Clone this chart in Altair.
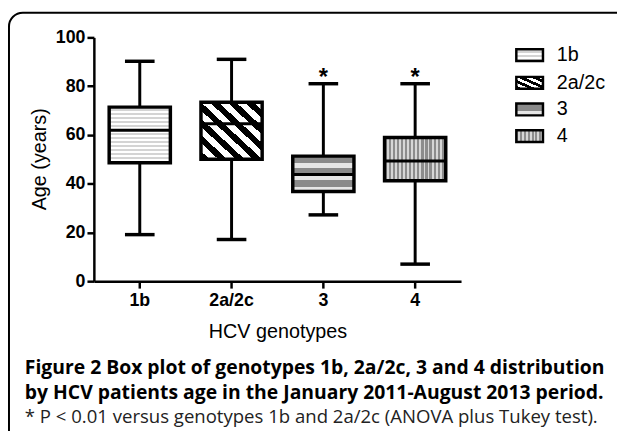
import altair as alt
import pandas as pd

# ---- data ----
genotypes = ["1b", "2a/2c", "3", "4"]
age_min = [19.1, 17.1, 27.2, 7.0]
age_q1 = [48.6, 50.0, 36.8, 41.2]
age_median = [61.9, 64.6, 43.8, 49.3]
age_q3 = [71.4, 73.4, 51.3, 58.9]
age_max = [90.2, 91.0, 81.0, 81.0]
star_genotypes = ["3", "4"]
star_age = [87.0, 87.0]
y_ticks = [0, 20, 40, 60, 80, 100]

caption_1 = "Figure 2 Box plot of genotypes 1b, 2a/2c, 3 and 4 distribution"
caption_2 = "by HCV patients age in the January 2011-August 2013 period."
caption_3 = "* P < 0.01 versus genotypes 1b and 2a/2c (ANOVA plus Tukey test)."

df = pd.DataFrame({"genotype": genotypes, "lo": age_min, "q1": age_q1,
                   "med": age_median, "q3": age_q3, "hi": age_max})
stars = pd.DataFrame({"genotype": star_genotypes, "age": star_age})


def stripes(n, c1, c2, frac, x1, y1, x2, y2):
    stops = []
    for k in range(n):
        a, b, c = k / n, (k + frac) / n, (k + 1) / n
        stops += [{"offset": a, "color": c1}, {"offset": b, "color": c1},
                  {"offset": b, "color": c2}, {"offset": c, "color": c2}]
    return {"gradient": "linear", "x1": x1, "y1": y1, "x2": x2, "y2": y2, "stops": stops}


box_fills = [
    stripes(14, "#ffffff", "#d4d4d4", 0.55, 0, 0, 0, 1),
    stripes(7, "#000000", "#ffffff", 0.5, 0, 1, 1, 0),
    stripes(3, "#8a8a8a", "#e6e6e6", 0.62, 0, 0, 0, 1),
    stripes(15, "#8c8c8c", "#d6d6d6", 0.55, 0, 0, 1, 0),
]
legend_fills = [
    stripes(3, "#ffffff", "#d4d4d4", 0.55, 0, 0, 0, 1),
    stripes(4, "#000000", "#ffffff", 0.5, 0, 1, 1, 0),
    stripes(1, "#8a8a8a", "#e6e6e6", 0.62, 0, 0, 0, 1),
    stripes(7, "#8c8c8c", "#d6d6d6", 0.55, 0, 0, 1, 0),
]

TICK_FONT = "Liberation Sans"
xscale = alt.Scale(domain=genotypes, paddingInner=0, paddingOuter=0)
yscale = alt.Scale(domain=[0, 100], nice=False, zero=True)

xaxis = alt.Axis(labelFont=TICK_FONT, labelFontSize=18, labelFontWeight="bold",
                 labelColor="black", labelAngle=0, labelPadding=4,
                 domainColor="black", domainWidth=2.5, tickColor="black",
                 tickWidth=2.5, tickSize=7, titleFont=TICK_FONT, titleFontSize=20,
                 titleFontWeight="normal", titleColor="black",
                 titleX=186, titleY=51, titleBaseline="middle", titleAlign="center",
                 grid=False)
yaxis = alt.Axis(values=y_ticks, labelFont=TICK_FONT, labelFontSize=18,
                 labelFontWeight="bold", labelColor="black", labelPadding=2,
                 domainColor="black", domainWidth=2.5, tickColor="black",
                 tickWidth=2.5, tickSize=7, titleFont=TICK_FONT, titleFontSize=20,
                 titleFontWeight="normal", titleColor="black", titleAngle=270,
                 titleX=-55, titleY=123, titleBaseline="middle", titleAlign="center",
                 grid=False)


def X():
    return alt.X("genotype:N", scale=xscale, axis=xaxis, title="HCV genotypes")


def Y(field):
    return alt.Y(field + ":Q", scale=yscale, axis=yaxis, title="Age (years)")


base = alt.Chart(df)
layers = []

layers.append(base.mark_rule(color="black", strokeWidth=3).encode(
    x=X(), y=Y("lo"), y2="hi:Q"))

for g, fill in zip(genotypes, box_fills):
    layers.append(base.transform_filter(alt.datum.genotype == g).mark_bar(
        width=62, fill=fill, stroke="black", strokeWidth=3.5).encode(
        x=X(), y=Y("q1"), y2="q3:Q"))

layers.append(base.mark_tick(size=62, thickness=3, color="black", opacity=1).encode(
    x=X(), y=Y("med")))
layers.append(base.mark_tick(size=30, thickness=3.5, color="black", opacity=1).encode(
    x=X(), y=Y("hi")))
layers.append(base.mark_tick(size=30, thickness=3.5, color="black", opacity=1).encode(
    x=X(), y=Y("lo")))

layers.append(alt.Chart(stars).mark_text(
    text="*", font=TICK_FONT, fontSize=24, fontWeight="bold", color="black",
    baseline="alphabetic", dy=16).encode(x=X(), y=Y("age")))

# legend (patterned swatches)
legend_rows = [18, 46, 73, 100]
for g, fill, yc in zip(genotypes, legend_fills, legend_rows):
    ld = alt.Chart(pd.DataFrame({"label": [g]}))
    layers.append(ld.mark_rect(fill=fill, stroke="black", strokeWidth=2.5).encode(
        x=alt.value(428), x2=alt.value(455), y=alt.value(yc - 6), y2=alt.value(yc + 6)))
    layers.append(ld.mark_text(align="left", baseline="middle", font=TICK_FONT,
                               fontSize=20, color="black").encode(
        x=alt.value(469), y=alt.value(yc), text="label:N"))

# frame
frame = alt.Chart(pd.DataFrame({"k": [0]})).mark_rect(
    fillOpacity=0, stroke="black", strokeWidth=2, cornerRadius=14).encode(
    x=alt.value(-86), x2=alt.value(570), y=alt.value(-25), y2=alt.value(440))
layers.append(frame)

# caption
cap = alt.Chart(pd.DataFrame({"t": [caption_1, caption_2, caption_3]}))
layers.append(cap.transform_filter(alt.datum.t == caption_1).mark_text(
    align="left", baseline="middle", font="Open Sans", fontSize=19.6, fontWeight="bold",
    color="black").encode(x=alt.value(-70), y=alt.value(335), text="t:N"))
layers.append(cap.transform_filter(alt.datum.t == caption_2).mark_text(
    align="left", baseline="middle", font="Open Sans", fontSize=19.6, fontWeight="bold",
    color="black").encode(x=alt.value(-70), y=alt.value(360), text="t:N"))
layers.append(cap.transform_filter(alt.datum.t == caption_3).mark_text(
    align="left", baseline="middle", font="Open Sans", fontSize=18.8, fontWeight="normal",
    color="#222222").encode(x=alt.value(-70), y=alt.value(385), text="t:N"))

chart = alt.layer(*layers).properties(
    width=372, height=247,
    padding={"left": 87, "top": 27, "right": 158, "bottom": 149},
    autosize=alt.AutoSizeParams(type="none"),
).configure(background="white", view=alt.ViewConfig(stroke=None))

chart.save("out.html", embed_options={"renderer": "svg", "actions": False})
